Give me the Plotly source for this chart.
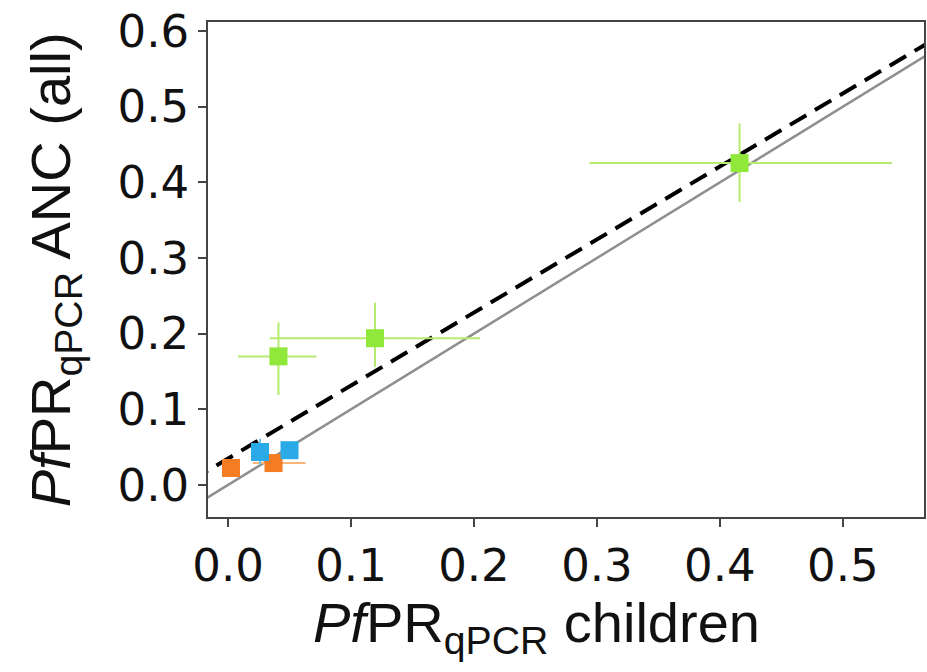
import plotly.graph_objects as go

# Data
green_x = [0.041, 0.1195, 0.416]
green_y = [0.170, 0.194, 0.4255]
green_x_lo = [0.008, 0.034, 0.294]
green_x_hi = [0.072, 0.205, 0.540]
green_y_lo = [0.119, 0.156, 0.374]
green_y_hi = [0.215, 0.241, 0.478]

orange_x = [0.0024, 0.037]
orange_y = [0.0225, 0.029]
orange_x_lo = [0.0, 0.020]
orange_x_hi = [0.006, 0.063]

blue_x = [0.026, 0.050]
blue_y = [0.0436, 0.046]
blue_y_lo = [0.027, 0.040]
blue_y_hi = [0.061, 0.052]

fit_intercept = 0.035
fit_slope = 0.965
line_x = [-0.05, 0.6]

x_ticks = [0.0, 0.1, 0.2, 0.3, 0.4, 0.5]
y_ticks = [0.0, 0.1, 0.2, 0.3, 0.4, 0.5, 0.6]

fig = go.Figure()

# identity line
fig.add_trace(go.Scatter(x=line_x, y=line_x, mode="lines",
                         line=dict(color="#8f8f8f", width=2.5), showlegend=False))
# fit line
fig.add_trace(go.Scatter(x=line_x, y=[fit_intercept + fit_slope * v for v in line_x],
                         mode="lines", line=dict(color="black", width=4, dash="19px,10px"),
                         showlegend=False))


def add_pts(xs, ys, color, barcolor, xlo=None, xhi=None, ylo=None, yhi=None):
    kw = {}
    if xlo is not None:
        kw["error_x"] = dict(type="data", symmetric=False,
                             array=[h - x for h, x in zip(xhi, xs)],
                             arrayminus=[x - l for l, x in zip(xlo, xs)],
                             color=barcolor, thickness=2, width=0)
    if ylo is not None:
        kw["error_y"] = dict(type="data", symmetric=False,
                             array=[h - y for h, y in zip(yhi, ys)],
                             arrayminus=[y - l for l, y in zip(ylo, ys)],
                             color=barcolor, thickness=2, width=0)
    fig.add_trace(go.Scatter(x=xs, y=ys, mode="markers",
                             marker=dict(symbol="square", size=18, color=color),
                             showlegend=False, **kw))


add_pts(green_x, green_y, "#8fe83a", "#b5ec70", green_x_lo, green_x_hi, green_y_lo, green_y_hi)
add_pts(orange_x, orange_y, "#f57c22", "#f9b47c", orange_x_lo, orange_x_hi)
add_pts(blue_x, blue_y, "#2aaae6", "#6cc6f0", None, None, blue_y_lo, blue_y_hi)

axis_common = dict(showline=True, linecolor="#444444", linewidth=1.8, mirror=True,
                   ticks="outside", ticklen=8, tickwidth=1.8, tickcolor="#444444",
                   showgrid=False, zeroline=False, automargin=False,
                   tickfont=dict(family="DejaVu Sans", size=45, color="#111111"))

title_font = dict(family="Liberation Sans", size=56, color="#111111")

fig.update_layout(
    width=927, height=672,
    margin=dict(l=208, r=3, t=22, b=155),
    plot_bgcolor="white", paper_bgcolor="white",
    xaxis=dict(range=[-0.0163, 0.566], tickvals=x_ticks,
               ticktext=[f"{v:.1f}" for v in x_ticks],
               **axis_common),
    yaxis=dict(range=[-0.0423, 0.612], tickvals=y_ticks,
               ticktext=[f"{v:.1f}" for v in y_ticks],
               **axis_common),
    annotations=[
        dict(text="<i>Pf</i>PR<sub>qPCR</sub> children", xref="paper", yref="paper",
             x=0.459, y=-0.145, xanchor="center", yanchor="top", showarrow=False,
             font=title_font),
        dict(text="<i>Pf</i>PR<sub>qPCR</sub> ANC (all)", xref="paper", yref="paper",
             x=-0.214, y=0.5, xanchor="center", yanchor="middle", showarrow=False,
             textangle=-90, font=title_font),
    ],
)

fig.write_html("out.html", config={"displayModeBar": False},
               post_script="document.body.style.margin='0px';")
